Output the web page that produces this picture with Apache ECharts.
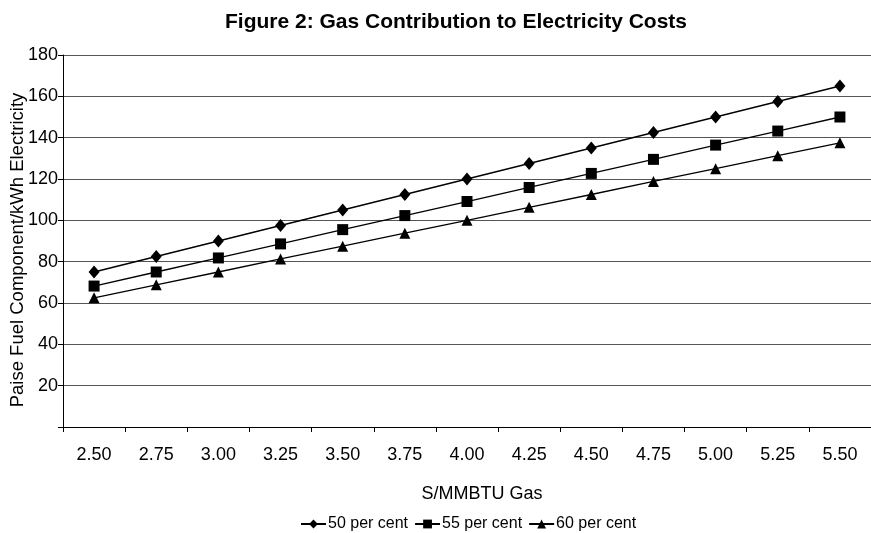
<!DOCTYPE html>
<html><head><meta charset="utf-8">
<script src="https://cdn.jsdelivr.net/npm/echarts@6/dist/echarts.min.js"></script>
<style>html,body{margin:0;padding:0;background:#fff}#c{width:871px;height:533px}</style>
</head><body><div id="c"></div>
<script>
const categories = ['2.50','2.75','3.00','3.25','3.50','3.75','4.00','4.25','4.50','4.75','5.00','5.25','5.50'];
const s50 = [75, 82.5, 90, 97.5, 105, 112.5, 120, 127.5, 135, 142.5, 150, 157.5, 165];
const s55 = [68.2, 75, 81.8, 88.6, 95.5, 102.3, 109.1, 115.9, 122.7, 129.5, 136.4, 143.2, 150];
const s60 = [62.5, 68.8, 75, 81.3, 87.5, 93.8, 100, 106.3, 112.5, 118.8, 125, 131.3, 137.5];
const seriesNames = ['50 per cent', '55 per cent', '60 per cent'];

const font = 'Liberation Sans, Arial, sans-serif';
const chart = echarts.init(document.getElementById('c'));
function mk(name, data, symbol, size) {
  return {
    name, type: 'line', data, symbol, symbolSize: size,
    lineStyle: {color: '#000', width: 1.3},
    itemStyle: {color: '#000'},
    emphasis: {disabled: true},
    animation: false
  };
}
chart.setOption({
  animation: false,
  title: {
    text: 'Figure 2: Gas Contribution to Electricity Costs',
    left: 451, top: 7, textAlign: 'center',
    textStyle: {fontFamily: font, fontSize: 21, fontWeight: 'bold', color: '#000'}
  },
  grid: {left: 63, right: 0, top: 55, bottom: 106, outerBoundsMode: 'none', containLabel: false},
  legend: {
    top: 511, left: 295,
    itemWidth: 25, itemHeight: 11, itemGap: 6,
    textStyle: {fontFamily: font, fontSize: 16, color: '#000', padding: [0, 0, 0, -3]},
    data: seriesNames
  },
  xAxis: {
    type: 'category', data: categories, boundaryGap: true,
    name: 'S/MMBTU Gas', nameLocation: 'middle', nameGap: 58, nameMoveOverlap: false,
    nameTextStyle: {fontFamily: font, fontSize: 18, color: '#000', padding: [0, 0, 0, 30]},
    axisLine: {lineStyle: {color: '#000', width: 1}},
    axisTick: {show: true, length: 5, lineStyle: {color: '#000'}},
    axisLabel: {fontFamily: font, fontSize: 18, color: '#000', margin: 19}
  },
  yAxis: {
    type: 'value', min: 0, max: 180, interval: 20,
    name: 'Paise Fuel Component/kWh Electricity', nameLocation: 'middle', nameGap: 36, nameMoveOverlap: false,
    nameTextStyle: {fontFamily: font, fontSize: 18.5, color: '#000', padding: [0, 18, 0, 0]},
    axisLine: {show: true, lineStyle: {color: '#000', width: 1}},
    axisTick: {show: true, length: 5, lineStyle: {color: '#000'}},
    axisLabel: {fontFamily: font, fontSize: 18, color: '#000', margin: 5,
      formatter: v => v === 0 ? '' : String(v)},
    splitLine: {lineStyle: {color: '#555', width: 1}}
  },
  series: [
    mk(seriesNames[0], s50, 'diamond', [11, 13]),
    mk(seriesNames[1], s55, 'rect', 11),
    mk(seriesNames[2], s60, 'triangle', 11)
  ]
});
</script></body></html>
